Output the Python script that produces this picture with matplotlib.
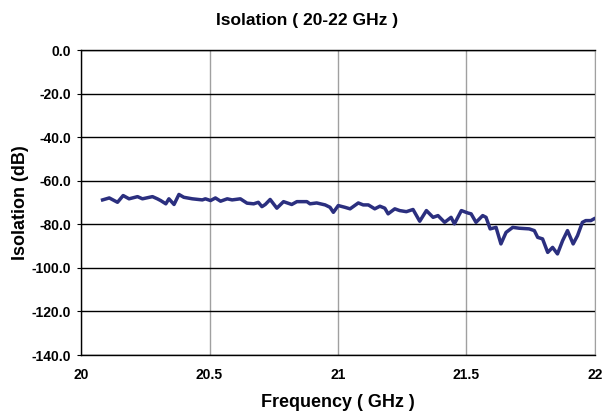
import matplotlib
matplotlib.use("Agg")
import matplotlib.pyplot as plt

# Isolation vs frequency
freq_ghz = [20.084, 20.11, 20.142, 20.164, 20.187, 20.22, 20.239, 20.278, 20.297,
            20.31, 20.33, 20.342, 20.362, 20.381, 20.40, 20.433, 20.472, 20.484,
            20.504, 20.523, 20.543, 20.569, 20.588, 20.62, 20.646, 20.672, 20.69,
            20.704, 20.717, 20.736, 20.762, 20.788, 20.82, 20.84, 20.879, 20.891,
            20.917, 20.95, 20.969, 20.982, 21.001, 21.027, 21.047, 21.079, 21.098,
            21.118, 21.143, 21.163, 21.182, 21.195, 21.221, 21.24, 21.266, 21.292,
            21.318, 21.344, 21.37, 21.389, 21.415, 21.44, 21.453, 21.48, 21.505,
            21.518, 21.537, 21.563, 21.576, 21.592, 21.615, 21.634, 21.654, 21.68,
            21.705, 21.744, 21.764, 21.777, 21.796, 21.816, 21.835, 21.854, 21.874,
            21.893, 21.915, 21.932, 21.951, 21.964, 21.984, 21.996]
isolation_db = [-68.8, -67.9, -69.9, -66.8, -68.3, -67.3, -68.3, -67.3, -68.3,
                -69.1, -70.6, -68.3, -70.9, -66.3, -67.6, -68.3, -68.8, -68.3,
                -69.1, -67.9, -69.4, -68.3, -68.8, -68.3, -70.3, -70.6, -69.9,
                -71.9, -70.9, -68.6, -72.6, -69.6, -70.9, -69.6, -69.6, -70.6,
                -70.2, -71.1, -72.2, -74.5, -71.4, -72.2, -72.9, -70.2, -71.1,
                -71.1, -72.9, -71.7, -72.6, -75.2, -72.9, -73.7, -74.2, -73.2,
                -78.6, -73.7, -76.8, -76.0, -79.1, -76.8, -79.8, -73.7, -74.8,
                -75.2, -79.1, -76.0, -76.8, -82.1, -81.4, -89.0, -83.7, -81.4,
                -81.8, -82.1, -82.9, -86.0, -86.7, -92.9, -90.6, -93.6, -87.5,
                -82.9, -89.0, -85.2, -79.1, -78.3, -78.3, -77.5]

x_ticks = [20, 20.5, 21, 21.5, 22]
x_tick_labels = ["20", "20.5", "21", "21.5", "22"]
y_ticks = [0, -20, -40, -60, -80, -100, -120, -140]

plt.rcParams['font.family'] = ['Liberation Sans', 'DejaVu Sans']
plt.rcParams['font.weight'] = 'bold'

fig = plt.figure(figsize=(6.1, 4.13), dpi=100)
ax = fig.add_axes([0.1328, 0.1404, 0.8426, 0.7385])

ax.plot(freq_ghz, isolation_db, color='#2b2f7f', linewidth=2.5, zorder=3)

ax.set_xlim(20, 22)
ax.set_ylim(-140, 0)
ax.set_xticks(x_ticks)
ax.set_xticklabels(x_tick_labels)
ax.set_yticks(y_ticks)
ax.set_yticklabels([f"{v:.1f}" for v in y_ticks])

# vertical grid gray, horizontal grid black
ax.xaxis.grid(True, color='#a0a0a0', linewidth=1.0)
ax.yaxis.grid(True, color='black', linewidth=1.0)
ax.set_axisbelow(True)

for side in ['left', 'bottom', 'top']:
    ax.spines[side].set_color('black')
    ax.spines[side].set_linewidth(1.0)
ax.spines['right'].set_color('#a0a0a0')

ax.tick_params(axis='x', length=0, pad=9, labelsize=10)
ax.tick_params(axis='y', length=3, direction='out', pad=4, labelsize=10)

fig.text(0.503, 0.951, "Isolation ( 20-22 GHz )", fontsize=12.5, fontweight='bold',
         ha='center', va='center')
ax.set_xlabel("Frequency ( GHz )", fontsize=13, fontweight='bold', labelpad=9)
ax.set_ylabel("Isolation (dB)", fontsize=13, fontweight='bold', labelpad=2)

fig.savefig("out.png", dpi=100)
